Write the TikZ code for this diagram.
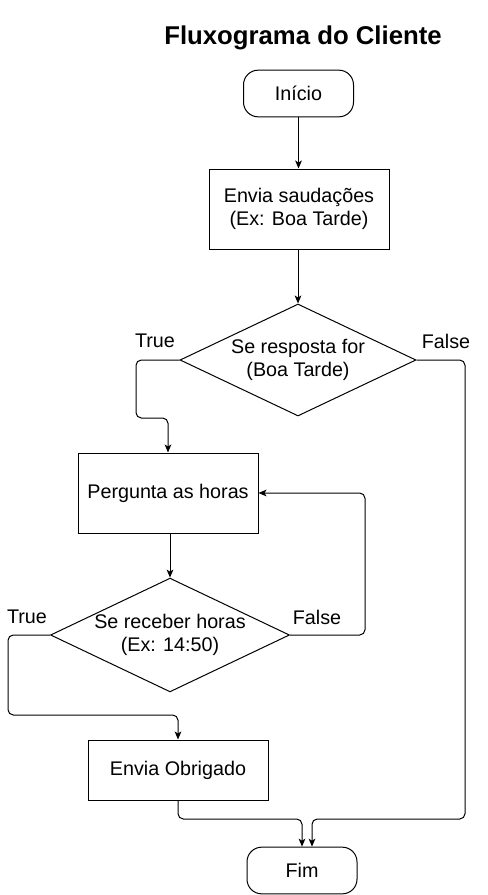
\documentclass[tikz,border=0pt]{standalone}
\usepackage{fontspec}
\setmainfont{Liberation Sans}
\usetikzlibrary{shapes.geometric, arrows.meta, calc}

\begin{document}
\begin{tikzpicture}[x=0.75pt, y=-0.75pt, line width=0.75pt,
	every node/.style={font=\fontsize{14.8}{17.5}\selectfont, align=center},
	terminal/.style={draw, rounded corners=11pt, minimum width=82.5pt, minimum height=35pt, inner sep=0pt},
	process/.style={draw, minimum width=135pt, minimum height=60pt, inner sep=0pt},
	decision/.style={draw, diamond, aspect=2.1, minimum width=177pt, minimum height=84pt, inner sep=0pt},
	arrow/.style={rounded corners=4pt, -{Stealth[length=6pt, width=5pt, inset=1.5pt]}}]
\useasboundingbox (0, 0) rectangle (488, 895);
\node[font=\fontsize{19.3}{22}\selectfont\bfseries] (title) at (303, 38) {Fluxograma do Cliente};
\node[terminal] (inicio) at (298.5, 93.5) {Início};
\node[process] (saudacoes) at (299, 209) {Envia saudações\\(Ex: Boa Tarde)};
\node[decision] (resposta) at (298, 360) {Se resposta for\\(Boa Tarde)};
\node[process] (pergunta) at (168, 493) {Pergunta as horas};
\node[decision] (horas) at (170, 635) {Se receber horas\\(Ex: 14:50)};
\node[process, minimum height=45pt] (obrigado) at (178, 770) {Envia Obrigado};
\node[terminal] (fim) at (302, 870.5) {Fim};
\node (true1) at (155, 341) {True};
\node (false1) at (446, 341) {False};
\node (true2) at (27, 617) {True};
\node (false2) at (317, 617) {False};
\draw[arrow] (inicio.south) -- (saudacoes.north -| inicio.south);
\draw[arrow] (saudacoes.south -| resposta.north) -- (resposta.north);
\draw[arrow] (resposta.west) -| (136, 418) -| (pergunta.north);
\draw[arrow] (resposta.east) -| (465, 819) -| ($(fim.north) + (10, 0)$);
\draw[arrow] (pergunta.south -| horas.north) -- (horas.north);
\draw[arrow] (horas.east) -| (365, 493) -- (pergunta.east);
\draw[arrow] (horas.west) -| (8, 715) -| (obrigado.north);
\draw[arrow] (obrigado.south) -- (178, 819) -| (fim.north);
\end{tikzpicture}
\end{document}
